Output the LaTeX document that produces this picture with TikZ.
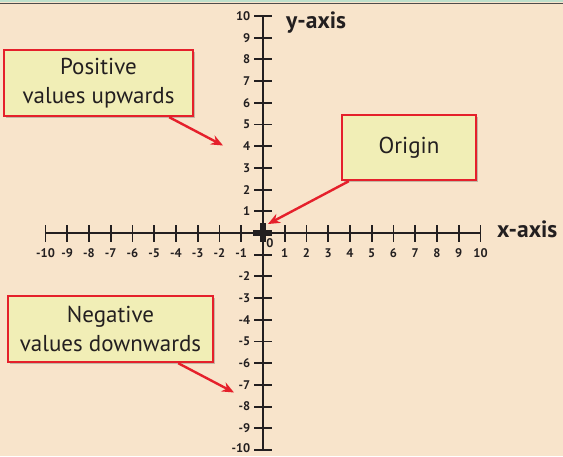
\documentclass[tikz,border=0pt]{standalone}
\usepackage{fontspec}
\setmainfont{PT Sans}
\usetikzlibrary{arrows.meta,shadows,calc}
\definecolor{bgpeach}{HTML}{F8E4CB}
\definecolor{boxfill}{HTML}{F1EEB6}
\definecolor{boxred}{HTML}{E5202B}
\definecolor{ink}{HTML}{231F20}
\definecolor{topgreen}{HTML}{BFE0CC}
\tikzset{
  callout/.style={draw=boxred, line width=2.4pt, fill=boxfill, align=center,
    text=ink, font=\fontsize{23}{29}\selectfont, inner sep=0pt,
    drop shadow={shadow xshift=2pt, shadow yshift=-2pt, opacity=0.3, fill=black!70}},
  pointer/.style={draw=boxred, line width=2.4pt, -{Stealth[length=12pt,width=10pt]}},
  axisline/.style={draw=ink, line width=2.3pt},
  tickline/.style={draw=ink, line width=1.9pt},
  numlabel/.style={text=ink, font=\bfseries\fontsize{12.5}{13}\selectfont, inner sep=0pt},
  axistitle/.style={text=ink, font=\bfseries\fontsize{23.5}{26}\selectfont, inner sep=0pt}
}
\begin{document}
\begin{tikzpicture}[x=1pt,y=-1pt]
  % background
  \fill[bgpeach] (0,0) rectangle (563,456);
  \useasboundingbox (0,0) rectangle (563,456);
  \fill[topgreen] (0,0) rectangle (563,2.2);
  \draw[ink!80, line width=1pt] (0,3) -- (563,3);

  % axes
  \coordinate (xl) at (45,233);
  \coordinate (xr) at (480,233);
  \coordinate (yt) at (263,16);
  \coordinate (yb) at (263,450);
  \draw[axisline] (xl) -- (xr);
  \draw[axisline] (yt) -- (yb);

  % x ticks and labels
  \foreach \i in {-10,...,-1,1,2,...,10}{
    \draw[tickline] ({263+21.75*\i},225) -- ({263+21.75*\i},242);
    \node[numlabel] (xn\i) at ({263+21.75*\i},253.5) {\i};
  }
  % y ticks
  \foreach \i in {-10,...,-1,1,2,...,10}{
    \draw[tickline] (254,{233-21.7*\i}) -- (272,{233-21.7*\i});
  }
  \foreach \i in {-9,...,-2,1,2,...,10}{
    \node[numlabel, anchor=east] (yn\i) at (250.5,{233-21.7*\i}) {\i};
  }
  \node[numlabel, anchor=east] (ynlast) at (250.5,448.5) {-10};
  % origin marker
  \draw[ink, line width=6pt] (253,233) -- (272,233);
  \draw[ink, line width=6pt] (263,223) -- (263,242);
  \node[numlabel] (zero) at (270,243.5) {0};

  % axis titles
  \node[axistitle, anchor=base west] (ytitle) at (286,28) {y-axis};
  \node[axistitle, anchor=base west] (xtitle) at (497,237.5) {x-axis};

  % callouts
  \node[callout, minimum width=189pt, minimum height=66pt] (pos) at (98.5,83) {Positive\\values upwards};
  \node[callout, minimum width=134pt, minimum height=65pt] (orig) at (409,147.5) {Origin};
  \node[callout, minimum width=205pt, minimum height=66pt] (neg) at (110.5,329) {Negative\\values downwards};

  % pointer targets
  \coordinate (pt) at (223,145.5);
  \coordinate (ot) at (268,224);
  \coordinate (nt) at (234,392.5);

  \draw[pointer] ($(pos.south east)+(-25,0)$) -- (pt);
  \draw[pointer] ($(orig.south west)+(8,0)$) -- (ot);
  \draw[pointer] ($(neg.south east)+(-36,0)$) -- (nt);
\end{tikzpicture}
\end{document}
